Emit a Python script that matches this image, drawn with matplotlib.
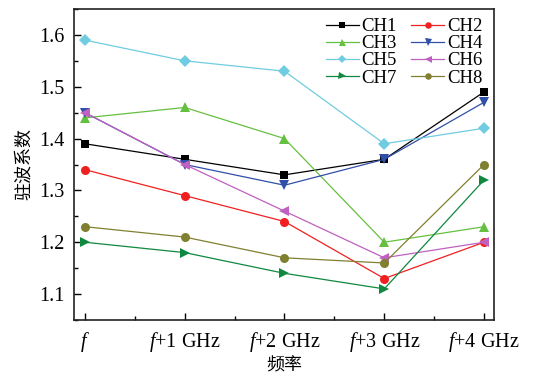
import matplotlib
matplotlib.use("Agg")
import matplotlib.pyplot as plt
from matplotlib.ticker import MultipleLocator

plt.rcParams['font.family'] = ['Liberation Serif', 'Noto Sans CJK SC']
plt.rcParams['mathtext.fontset'] = 'custom'
plt.rcParams['mathtext.rm'] = 'Liberation Serif'
plt.rcParams['mathtext.it'] = 'Liberation Serif:italic'

freq_labels = ['$f$', '$f$+1 GHz', '$f$+2 GHz', '$f$+3 GHz', '$f$+4 GHz']
channels = ['CH1', 'CH2', 'CH3', 'CH4', 'CH5', 'CH6', 'CH7', 'CH8']

ch1 = [1.39, 1.36, 1.33, 1.36, 1.49]
ch2 = [1.34, 1.29, 1.24, 1.13, 1.20]
ch3 = [1.44, 1.46, 1.40, 1.20, 1.23]
ch4 = [1.45, 1.35, 1.31, 1.36, 1.47]
ch5 = [1.59, 1.55, 1.53, 1.39, 1.42]
ch6 = [1.45, 1.35, 1.26, 1.17, 1.20]
ch7 = [1.20, 1.18, 1.14, 1.11, 1.32]
ch8 = [1.23, 1.21, 1.17, 1.16, 1.35]
series = [ch1, ch2, ch3, ch4, ch5, ch6, ch7, ch8]

colors = ['#000000', '#F02020', '#66C040', '#3050A8',
          '#70CCE0', '#C060C0', '#108840', '#808030']
markers = ['s', 'o', '^', 'v', 'D', '<', '>', 'o']
sizes = [6, 6.5, 7, 7, 6, 7, 7, 6.5]

fig = plt.figure(figsize=(5.33, 3.77), dpi=100)
ax = fig.add_axes([74 / 533, 1 - 320 / 377, 420 / 533, 311 / 377])

x = list(range(len(freq_labels)))
handles = []
for name, vals, c, m, s in zip(channels, series, colors, markers, sizes):
    h, = ax.plot(x, vals, color=c, marker=m, markersize=s, linewidth=0.9,
                 markeredgewidth=0, label=name)
    handles.append(h)

ax.set_xlim(-0.11, 4.1)
ax.set_ylim(1.05, 1.65)
ax.set_xticks(x)
ax.set_xticklabels(freq_labels)
ax.xaxis.set_minor_locator(MultipleLocator(0.5))
ax.yaxis.set_major_locator(MultipleLocator(0.1))
ax.yaxis.set_minor_locator(MultipleLocator(0.05))
ax.tick_params(which='both', direction='in', top=False, right=False,
               labelsize=14.5, pad=7)
ax.tick_params(which='major', length=5, width=1)
ax.tick_params(which='minor', length=3, width=1)
for sp in ax.spines.values():
    sp.set_linewidth(1.2)
    sp.set_color('#222222')

ax.set_ylabel('驻波系数', family=['Noto Sans CJK SC'], fontsize=13, labelpad=4)
ax.set_xlabel('频率', family=['Noto Sans CJK SC'], fontsize=13, labelpad=2)

# legend filled row by row: CH1 CH2 / CH3 CH4 / ...
order = [0, 2, 4, 6, 1, 3, 5, 7]
leg = ax.legend([handles[i] for i in order], [channels[i] for i in order],
                ncol=2, loc='upper right', bbox_to_anchor=(0.972, 0.971),
                frameon=False, fontsize=13.5,
                handlelength=1.76, handletextpad=0.15, columnspacing=0.75,
                labelspacing=0.0, markerscale=0.72,
                borderaxespad=0.0, borderpad=0.0)

fig.savefig('out.png', dpi=100)
